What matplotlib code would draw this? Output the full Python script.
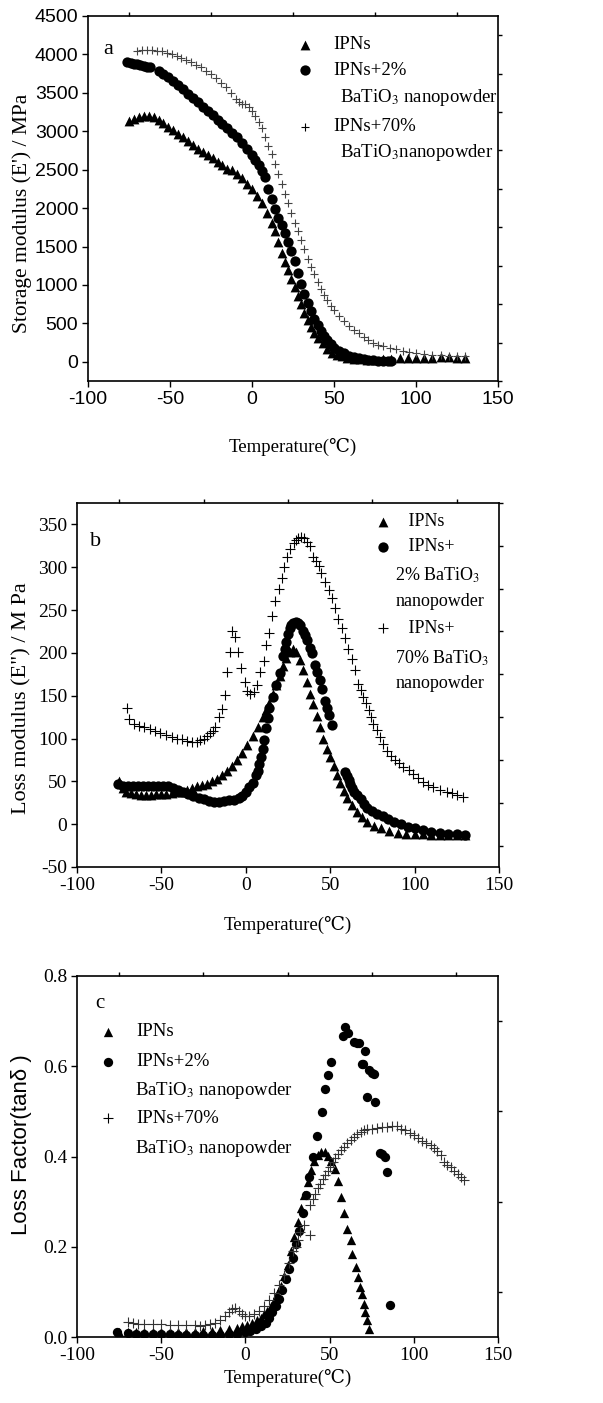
import numpy as np
import matplotlib
matplotlib.use("Agg")
import matplotlib.pyplot as plt
from matplotlib.ticker import MultipleLocator

plt.rcParams['mathtext.fontset'] = 'stix'
plt.rcParams['axes.unicode_minus'] = False
SERIF = ['Liberation Serif', 'DejaVu Serif']
SANS = ['Liberation Sans', 'DejaVu Sans']

# ---------------- (a) storage modulus ----------------
a_ipn_t = [-75, -72, -69, -66, -63, -60, -57, -54, -51, -48, -45, -42, -39, -36, -33, -30, -27, -24,
           -21, -18, -15, -12, -9, -6, -3, 0, 3, 6, 9, 12, 14, 16, 18, 20, 22, 24, 26, 28, 30, 32, 34,
           36, 38, 40, 43, 46, 49, 52, 55, 58, 62, 66, 70, 75, 80, 85, 90, 95, 100, 105, 110, 115,
           120, 125, 130]
a_ipn_e = [3130, 3160, 3190, 3200, 3195, 3180, 3150, 3110, 3060, 3010, 2960, 2920, 2875, 2820, 2770,
           2730, 2690, 2650, 2600, 2560, 2510, 2500, 2450, 2390, 2320, 2250, 2160, 2060, 1940, 1800,
           1700, 1560, 1420, 1300, 1200, 1080, 970, 860, 750, 630, 540, 450, 380, 310, 240, 170, 120,
           90, 70, 55, 40, 30, 25, 20, 30, 40, 45, 50, 50, 55, 55, 60, 60, 55, 50]

a_2p_t = [-76, -74, -72, -70, -68, -66, -64, -62, -57, -54, -51, -48, -45, -42, -39, -36, -33, -30,
          -27, -24, -21, -18, -15, -12, -9, -6, -3, 0, 2, 4, 6, 8, 10, 12, 14, 16, 18, 20, 22, 24, 26,
          28, 30, 32, 34, 36, 38, 40, 42, 44, 46, 48, 50, 53, 56, 59, 62, 65, 68, 71, 74, 77, 80, 83, 85]
a_2p_e = [3900, 3890, 3880, 3870, 3860, 3850, 3840, 3830, 3790, 3750, 3700, 3650, 3600, 3550, 3490,
          3430, 3380, 3320, 3270, 3210, 3150, 3100, 3040, 2980, 2920, 2850, 2770, 2690, 2620, 2560,
          2480, 2400, 2250, 2120, 1990, 1870, 1780, 1680, 1560, 1440, 1310, 1160, 1010, 880, 760, 660,
          560, 480, 400, 330, 280, 230, 180, 140, 110, 80, 60, 45, 35, 25, 20, 15, 15, 15, 15]

a_70p_t = [-70, -67, -64, -61, -58, -55, -52, -49, -46, -43, -40, -37, -34, -31, -28, -25, -22, -19,
           -16, -13, -10, -8, -6, -4, -2, 0, 2, 4, 6, 8, 10, 12, 14, 16, 18, 20, 22, 24, 26, 28, 30,
           32, 34, 36, 38, 40, 42, 44, 46, 48, 50, 53, 56, 59, 62, 65, 68, 71, 74, 77, 80, 84, 88, 92,
           96, 100, 105, 110, 115, 120, 125, 130]
a_70p_e = [4050, 4055, 4055, 4055, 4050, 4040, 4025, 4005, 3980, 3955, 3930, 3900, 3865, 3830, 3785,
           3740, 3690, 3630, 3570, 3500, 3420, 3380, 3360, 3350, 3320, 3270, 3200, 3120, 3040, 2930,
           2810, 2700, 2580, 2450, 2320, 2190, 2060, 1930, 1810, 1700, 1580, 1470, 1340, 1240, 1140,
           1040, 950, 870, 800, 730, 670, 600, 530, 470, 420, 370, 320, 280, 250, 220, 200, 180, 160,
           140, 125, 110, 100, 90, 85, 80, 80, 75]

# ---------------- (b) loss modulus ----------------
b_ipn_t = [-75, -73, -71, -68, -65, -62, -59, -56, -53, -50, -47, -44, -41, -38, -35, -32, -29, -26,
           -23, -20, -17, -14, -11, -8, -5, -2, 1, 4, 7, 10, 12, 14, 16, 18, 20, 22, 24, 26, 28, 30,
           32, 34, 36, 38, 40, 42, 44, 46, 48, 50, 52, 54, 56, 58, 60, 63, 66, 69, 72, 76, 80, 85, 90,
           95, 100, 105, 110, 115, 120, 125, 130]
b_ipn_e = [50, 42, 38, 36, 35, 34, 34, 34, 35, 35, 35, 36, 37, 38, 40, 42, 44, 46, 47, 50, 53, 57, 62,
           68, 75, 83, 92, 103, 114, 125, 133, 141, 152, 162, 173, 185, 194, 201, 204, 201, 192, 180,
           166, 152, 140, 126, 114, 100, 88, 78, 68, 58, 48, 39, 31, 22, 14, 8, 3, -2, -5, -8, -10,
           -11, -12, -12, -13, -13, -13, -13, -13]

b_2p_t = [-76, -73, -70, -67, -64, -61, -58, -55, -52, -49, -46, -43, -40, -37, -34, -31, -28, -25,
          -22, -19, -16, -13, -10, -7, -4, -2, 0, 2, 4, 6, 7, 8, 9, 10, 11, 12, 13, 14, 16, 18, 20, 22,
          23, 24, 25, 26, 27, 28, 30, 31, 32, 34, 35, 36, 38, 39, 41, 42, 44, 45, 47, 48, 49, 51, 59,
          60, 61, 62, 63, 64, 66, 68, 70, 72, 75, 78, 81, 84, 88, 92, 96, 100, 105, 110, 115, 120,
          125, 130]
b_2p_e = [47, 45, 44, 44, 44, 45, 45, 45, 45, 45, 44, 42, 40, 37, 35, 33, 31, 29, 27, 26, 26, 27, 28,
          28, 30, 33, 38, 43, 48, 57, 62, 70, 78, 88, 98, 112, 124, 136, 148, 162, 177, 196, 205, 213,
          222, 229, 233, 235, 236, 235, 233, 226, 221, 215, 206, 200, 186, 178, 168, 158, 144, 136,
          127, 116, 61, 56, 51, 47, 42, 38, 34, 29, 24, 19, 15, 12, 9, 6, 3, 0, -3, -5, -7, -9, -10,
          -11, -12, -13]

b_70p_t = [-70.4, -69.4, -66.5, -63.5, -60.5, -57, -54, -50.7, -47, -44, -40.8, -38, -35, -32, -29,
           -27, -25, -23, -21, -19.5, -18, -16, -14, -12.2, -11.2, -9.6, -7.9, -6.3, -4.9, -2.9, -0.7,
           0.6, 2.6, 4.6, 6.5, 8.5, 10.5, 12.1, 14, 15.4, 17.4, 19.4, 21.3, 22.9, 24.3, 26.3, 28.3,
           30, 31.2, 32.5, 34.2, 36.1, 38.1, 40.1, 41.6, 43.1, 44.6, 47, 49, 51, 52.9, 54.9, 56.9,
           58.8, 60.8, 62.8, 64.8, 66.7, 68.2, 69.7, 71.2, 72.7, 74.2, 75.6, 77.6, 79.6, 81.5, 83.5,
           86, 88.4, 91, 93.4, 96.4, 99.3, 102.3, 105.2, 108.2, 111.1, 115, 119, 122, 125, 128.9]
b_70p_e = [136, 123, 117, 115, 113, 111, 109, 106, 104, 102, 100, 99, 97, 96, 96, 98, 100, 103, 106,
           109, 113, 125, 135, 151, 178, 201, 226, 219, 201, 182, 166, 156, 152, 154, 162, 178, 190,
           209, 223, 243, 260, 275, 288, 300, 312, 321, 328, 332, 334, 335, 334, 330, 325, 312, 307,
           302, 293, 283, 273, 264, 252, 240, 229, 217, 205, 193, 180, 164, 157, 149, 141, 133, 125,
           117, 110, 102, 94, 86, 80, 75, 71, 67, 63, 59, 54, 49, 46, 43, 40, 38, 36, 34, 32]

# ---------------- (c) loss factor ----------------
c_ipn_t = [-75, -70, -65, -60, -55, -50, -45, -40, -35, -30, -25, -20, -15, -10, -5, -2, 1, 4, 7, 9,
           11, 13, 15, 17, 19, 21, 23, 25, 27, 29, 31, 33, 35, 37, 39, 41, 43, 45, 47, 49, 51, 53, 55,
           56.5, 58.6, 60.5, 62.5, 63.5, 65.5, 67, 68, 69.3, 70.2, 71.2, 72.2, 73.2]
c_ipn_f = [0.012, 0.011, 0.011, 0.011, 0.011, 0.011, 0.011, 0.011, 0.012, 0.012, 0.013, 0.014, 0.015,
           0.018, 0.021, 0.024, 0.027, 0.031, 0.037, 0.043, 0.050, 0.058, 0.068, 0.080, 0.095, 0.112,
           0.135, 0.160, 0.190, 0.222, 0.255, 0.285, 0.315, 0.343, 0.370, 0.390, 0.403, 0.410, 0.410,
           0.402, 0.390, 0.372, 0.345, 0.310, 0.274, 0.240, 0.214, 0.185, 0.155, 0.133, 0.111, 0.096,
           0.074, 0.055, 0.037, 0.018]

c_2p_t = [-76, -70, -65, -60, -55, -50, -45, -40, -35, -30, -25, -20, -15, -10, -5, 0, 3, 6, 9, 12,
          14, 16, 18, 20, 22, 24, 26, 28, 30, 32, 34, 36, 38, 40, 42.6, 45.5, 47.5, 48.9, 51, 58.2,
          59.3, 61.2, 64.2, 66.2, 67.2, 69.1, 70.1, 71.1, 73.1, 75, 76.6, 72, 76.9, 79.8, 81.4, 82.7,
          84.1, 85.7]
c_2p_f = [0.010, 0.008, 0.007, 0.007, 0.006, 0.006, 0.006, 0.005, 0.005, 0.005, 0.005, 0.005, 0.005,
          0.006, 0.007, 0.010, 0.013, 0.017, 0.024, 0.032, 0.042, 0.055, 0.068, 0.085, 0.105, 0.128,
          0.150, 0.175, 0.205, 0.235, 0.275, 0.315, 0.355, 0.398, 0.445, 0.499, 0.549, 0.580, 0.610,
          0.667, 0.688, 0.674, 0.654, 0.652, 0.651, 0.606, 0.606, 0.634, 0.592, 0.584, 0.583, 0.531,
          0.521, 0.408, 0.405, 0.398, 0.366, 0.072]

c_70p_t = [-70, -67, -64, -60, -55, -50, -45, -40, -35, -30, -27, -24, -21, -18, -15, -12, -10, -8,
           -6, -4, -2, 0, 2, 5, 8, 11, 14, 17, 20, 23, 26, 28, 30, 31.5, 32.7, 34.6, 38.6, 38.6, 40,
           41.5, 43, 44.5, 46, 47.5, 49, 50.5, 52, 53.5, 55, 56.5, 58.5, 60.5, 62.5, 64.5, 66.5, 68.5,
           70.5, 72.5, 75, 78, 81, 84, 87, 90, 92.5, 95, 97.5, 100, 102.5, 105, 107.5, 110, 112, 114,
           116, 118, 120, 122, 124, 126, 128, 130]
c_70p_f = [0.033, 0.030, 0.029, 0.028, 0.028, 0.028, 0.027, 0.027, 0.026, 0.026, 0.025, 0.026, 0.028,
           0.032, 0.038, 0.046, 0.055, 0.062, 0.064, 0.058, 0.050, 0.046, 0.046, 0.050, 0.058, 0.068,
           0.082, 0.098, 0.115, 0.138, 0.165, 0.190, 0.200, 0.215, 0.233, 0.248, 0.227, 0.292, 0.305,
           0.318, 0.330, 0.340, 0.350, 0.358, 0.367, 0.377, 0.387, 0.396, 0.405, 0.414, 0.422, 0.429,
           0.437, 0.444, 0.450, 0.455, 0.458, 0.460, 0.462, 0.464, 0.465, 0.466, 0.467, 0.467, 0.462,
           0.458, 0.452, 0.447, 0.441, 0.435, 0.430, 0.425, 0.418, 0.412, 0.404, 0.388, 0.382, 0.377,
           0.368, 0.362, 0.355, 0.348]


def style_axes(ax, xmaj, ymaj, ymin, tick_family):
    ax.set_xlim(-100, 150)
    ax.xaxis.set_major_locator(MultipleLocator(xmaj))
    ax.xaxis.set_minor_locator(MultipleLocator(xmaj / 2))
    ax.yaxis.set_major_locator(MultipleLocator(ymaj))
    ax.yaxis.set_minor_locator(MultipleLocator(ymin))
    ax.tick_params(which='major', direction='out', length=4, width=1,
                   top=False, right=False, labelsize=14, pad=3)
    ax.tick_params(which='minor', direction='out', length=3, width=1,
                   top=True, right=True, bottom=False, left=False)
    for lab in ax.get_xticklabels() + ax.get_yticklabels():
        lab.set_family(tick_family)
    for sp in ax.spines.values():
        sp.set_linewidth(1.2)


def legend_block(ax, mx, tx, rows, size=13.5):
    # rows: (marker or None, text, y, text x offset)
    for mk, txt, y, dx in rows:
        if mk is not None:
            ax.scatter([mx], [y], transform=ax.transAxes, clip_on=False, **mk)
        ax.text(tx + dx, y, txt, transform=ax.transAxes, ha='left', va='center',
                fontsize=size, family=SERIF)


tri = dict(marker='^', s=50, color='black', linewidths=0)
cir = dict(marker='o', s=55, color='black', linewidths=0)
tri_c = dict(marker='^', s=45, color='black', linewidths=0)
cir_c = dict(marker='o', s=45, color='black', linewidths=0)

fig = plt.figure(figsize=(6.03, 14.03), dpi=100)

# ---- a ----
ax1 = fig.add_axes([88 / 603, 1 - 381 / 1403, 410 / 603, 365 / 1403])
ax1.scatter(a_ipn_t, a_ipn_e, **tri)
ax1.scatter(a_2p_t, a_2p_e, **cir)
ax1.scatter(a_70p_t, a_70p_e, marker='+', s=40, color='#444444', linewidths=0.8)
ax1.set_ylim(-250, 4500)
style_axes(ax1, 50, 500, 250, SANS)
ax1.set_ylabel("Storage modulus (E') / MPa", fontsize=15.5, family=SERIF)
ax1.yaxis.set_label_coords(-0.137, 0.458)
ax1.set_xlabel("Temperature(\u2103)", fontsize=13.5, family=SERIF)
ax1.xaxis.set_label_coords(0.5, -0.181)
ax1.xaxis.label.set_va('center')
ax1.text(0.049, 0.907, "a", transform=ax1.transAxes, fontsize=16, family=SERIF,
         ha='center', va='center')
pl_a = dict(marker='+', s=40, color='black', linewidths=0.8)
legend_block(ax1, 0.529, 0.598, [
    (tri, "IPNs", 0.921, 0),
    (cir, "IPNs+2%", 0.852, 0),
    (None, "BaTiO$_3$ nanopowder", 0.778, 0.017),
    (pl_a, "IPNs+70%", 0.696, 0),
    (None, "BaTiO$_3$nanopowder", 0.627, 0.017),
])

# ---- b ----
ax2 = fig.add_axes([77 / 603, 1 - 867 / 1403, 422 / 603, 364 / 1403])
ax2.scatter(b_ipn_t, b_ipn_e, **tri)
ax2.scatter(b_2p_t, b_2p_e, **cir)
ax2.scatter(b_70p_t, b_70p_e, marker='+', s=45, color='black', linewidths=0.8)
ax2.set_ylim(-50, 375)
style_axes(ax2, 50, 50, 25, SERIF)
ax2.set_ylabel('Loss modulus (E") / M Pa', fontsize=16, family=SERIF)
ax2.yaxis.set_label_coords(-0.107, 0.464)
ax2.set_xlabel("Temperature(\u2103)", fontsize=13.5, family=SERIF)
ax2.xaxis.set_label_coords(0.5, -0.159)
ax2.xaxis.label.set_va('center')
ax2.text(0.043, 0.894, "b", transform=ax2.transAxes, fontsize=16, family=SERIF,
         ha='center', va='center')
pl_b = dict(marker='+', s=45, color='black', linewidths=0.8)
legend_block(ax2, 0.725, 0.754, [
    (tri, "   IPNs", 0.949, 0),
    (cir, "   IPNs+", 0.880, 0),
    (None, "2% BaTiO$_3$", 0.802, 0),
    (None, "nanopowder", 0.729, 0),
    (pl_b, "   IPNs+", 0.656, 0),
    (None, "70% BaTiO$_3$", 0.573, 0),
    (None, "nanopowder", 0.505, 0),
], size=13)

# ---- c ----
ax3 = fig.add_axes([77 / 603, 1 - 1337 / 1403, 421 / 603, 361 / 1403])
ax3.scatter(c_ipn_t, c_ipn_f, **tri_c)
ax3.scatter(c_2p_t, c_2p_f, **cir_c)
ax3.scatter(c_70p_t, c_70p_f, marker='+', s=42, color='#333333', linewidths=0.8)
ax3.set_ylim(0, 0.8)
style_axes(ax3, 50, 0.2, 0.1, SERIF)
ax3.yaxis.set_major_formatter(matplotlib.ticker.FormatStrFormatter('%.1f'))
for lab in ax3.get_yticklabels():
    lab.set_family(SERIF)
ax3.set_ylabel("Loss Factor(tan\u03b4 )", fontsize=16, family=SANS)
ax3.yaxis.set_label_coords(-0.107, 0.532)
ax3.set_xlabel("Temperature(\u2103)", fontsize=13.5, family=SERIF)
ax3.xaxis.set_label_coords(0.5, -0.114)
ax3.xaxis.label.set_va('center')
ax3.text(0.055, 0.925, "c", transform=ax3.transAxes, fontsize=15, family=SERIF,
         ha='center', va='center')
legend_block(ax3, 0.074, 0.142, [
    (tri_c, "IPNs", 0.846, 0),
    (cir_c, "IPNs+2%", 0.763, 0),
    (None, "BaTiO$_3$ nanopowder", 0.684, -0.004),
    (pl_b, "IPNs+70%", 0.606, 0),
    (None, "BaTiO$_3$ nanopowder", 0.523, -0.004),
], size=13.5)

fig.savefig("out.png", dpi=100)
